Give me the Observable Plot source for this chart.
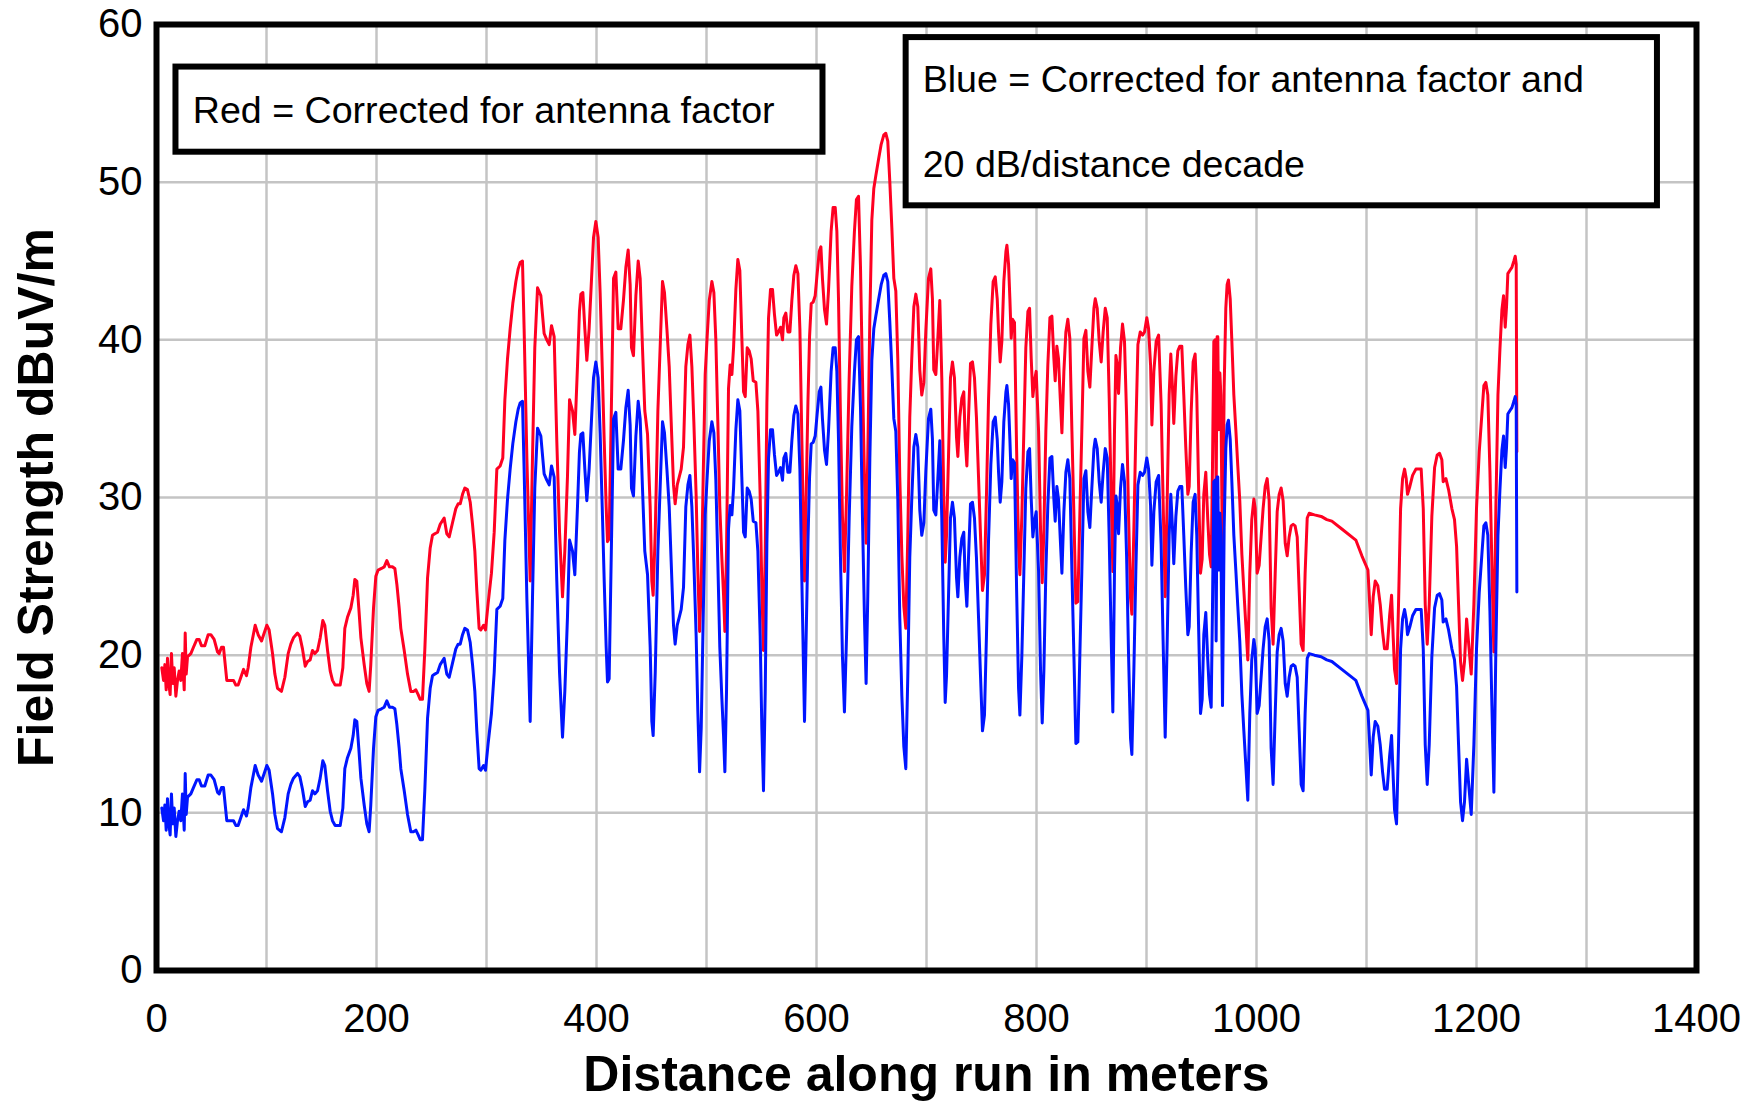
<!DOCTYPE html>
<html>
<head>
<meta charset="utf-8">
<script src="https://cdn.jsdelivr.net/npm/d3@7"></script>
<script src="https://cdn.jsdelivr.net/npm/@observablehq/plot@0.6"></script>
<style>
  html, body { margin: 0; padding: 0; background: #fff; overflow: hidden; }
  #chart svg { display: block; }
</style>
</head>
<body>
<div id="chart"></div>
<script>
// Distance along run (m)
const distance = [
4.8,6.4,7.6,8.8,10.0,11.2,12.4,13.6,14.8,16.1,17.6,19.1,20.6,22.1,23.6,25.2,26.1,27.0,28.2,31.2,33.6,36.7,38.8,40.9,43.9,47.0,49.4,52.4,55.5,57.0,59.1,60.9,63.9,67.6,70.0,72.1,74.2,76.7,79.1,81.8,83.3,85.8,89.7,92.4,95.5,97.9,100.3,102.4,105.5,107.6,110.0,113.6,116.7,119.7,122.1,124.5,128.2,130.3,132.7,135.2,137.3,139.7,141.8,143.9,146.4,148.8,151.2,153.0,155.5,157.9,160.0,162.4,167.0,169.4,171.2,173.6,176.7,178.8,180.3,182.1,183.9,185.8,188.8,191.2,193.3,194.8,197.3,199.4,201.5,204.5,207.0,209.4,211.8,214.5,216.7,218.5,220.6,222.1,225.2,228.2,231.2,233.6,235.8,237.9,239.7,241.8,243.9,246.4,248.8,250.9,253.0,255.5,257.9,261.5,263.9,266.1,269.1,272.1,274.2,276.1,278.2,280.3,282.7,285.2,287.3,289.4,291.2,293.3,
294.8,297.3,299.1,301.5,304.5,307.0,309.4,312.4,314.8,316.7,319.1,321.5,323.9,326.7,328.8,330.6,332.7,334.2,336.7,339.7,341.8,343.9,346.4,349.4,352.4,354.8,357.0,359.1,361.5,363.9,366.4,369.1,371.2,373.6,375.5,378.2,380.3,382.7,384.5,385.8,387.6,389.4,391.2,393.3,395.5,397.3,399.4,401.5,403.3,405.2,407.0,408.8,410.0,411.5,413.6,415.5,417.6,419.7,422.1,424.5,426.7,428.8,430.6,431.8,433.6,435.8,437.9,439.7,441.8,443.9,446.4,448.8,450.3,451.5,
453.4,455.8,458.2,460.0,461.8,464.0,466.1,467.9,470.0,471.5,473.4,475.2,477.0,479.1,481.2,483.1,484.9,486.7,488.5,490.6,492.1,493.7,495.2,497.0,498.8,500.6,502.5,504.9,506.7,508.5,510.3,512.1,514.0,515.5,516.7,518.2,520.0,521.5,523.1,524.6,526.7,528.5,530.3,532.1,533.7,535.2,537.0,538.8,540.6,542.5,544.9,546.7,548.8,550.3,551.8,553.4,554.9,556.4,558.2,560.0,561.8,563.7,565.5,567.3,569.1,570.3,572.1,574.0,575.8,577.6,579.4,581.2,583.1,584.9,586.7,589.1,590.6,592.2,593.7,595.2,597.0,598.8,600.6,602.5,604.0,
605.4,607.3,609.1,610.9,613.3,615.1,617.0,618.5,620.0,621.8,623.6,625.4,627.3,629.7,632.1,634.5,636.3,638.2,640.0,641.8,643.6,645.1,646.6,648.5,650.3,652.1,653.9,656.3,658.8,661.2,663.0,664.8,666.6,668.5,670.3,672.1,673.9,675.7,677.6,679.4,681.2,683.0,684.8,686.6,688.5,690.3,692.1,693.9,695.7,697.6,699.4,701.8,703.9,705.4,706.6,708.5,710.3,712.1,713.9,715.7,717.0,718.2,720.0,721.8,723.6,725.4,727.3,728.5,730.3,732.1,733.9,735.1,736.7,738.2,740.0,741.8,743.6,745.4,747.3,749.1,750.9,752.7,754.5,756.4,758.5,
760.6,762.5,764.3,765.5,767.0,768.5,770.3,772.2,773.1,774.6,775.8,777.0,778.2,780.0,781.9,783.7,784.9,786.7,788.5,790.3,792.2,793.7,795.2,796.7,798.2,799.7,801.9,803.7,805.2,806.7,808.5,810.3,812.2,814.0,815.8,817.0,818.5,820.0,821.6,823.1,824.9,826.7,828.5,830.3,832.2,834.0,835.8,837.6,839.4,841.2,843.1,844.9,846.7,848.5,850.3,852.2,853.4,855.2,857.0,858.8,860.6,862.5,864.3,866.1,867.9,869.4,870.9,872.2,873.4,874.6,876.4,878.2,880.0,881.9,883.7,885.5,886.7,888.5,890.3,892.2,894.3,896.4,898.2,900.3,901.9,903.7,904.9,906.7,908.8,911.0,
913.3,915.1,917.0,918.8,920.6,922.1,923.6,924.8,926.7,928.5,930.3,932.1,933.9,935.7,937.6,938.8,940.6,942.4,944.2,945.7,947.3,949.1,950.6,952.1,953.9,955.7,957.3,958.8,960.0,961.2,962.4,963.3,964.2,964.8,965.7,966.7,967.6,969.1,970.6,972.1,973.3,974.5,976.1,977.6,979.4,981.2,983.0,984.8,986.7,988.5,990.3,992.1,993.9,995.7,997.6,998.8,1000.6,1002.4,1004.2,1006.0,1007.9,1009.7,1011.5,1013.3,1015.1,1017.0,1018.8,1020.6,1022.4,1024.2,1026.1,1027.9,1029.7,1031.5,1033.3,1035.1,1037.0,1038.8,1040.6,1042.4,1044.2,1046.1,1047.9,1052.7,1058.8,1063.9,
1068.5,1077.6,1090.3,1095.8,1101.3,1103.1,1104.3,1106.1,1107.9,1110.3,1112.5,1114.6,1116.4,1118.8,1121.0,1122.8,1124.3,1125.5,1127.3,1129.1,1131.0,1132.8,1134.6,1136.1,1137.3,1139.4,1141.9,1144.9,1149.7,1151.6,1153.4,1155.2,1157.0,1159.4,1161.9,1164.3,1166.4,1168.5,1169.7,1172.2,1174.6,1177.6,1180.0,1181.9,1183.7,1185.5,1187.3,1189.1,1191.0,1192.8,1195.2,1197.6,1200.0,1202.5,1204.9,1206.7,1208.5,1210.3,1212.2,1214.0,1215.8,1217.6,1219.5,1221.3,1223.1,1224.6,1226.1,1227.3,1228.5,1230.3,1232.2,1234.0,1235.2,1236.1,1236.7
];

// Red = corrected for antenna factor (dBuV/m)
const redField = [
19.2,18.4,19.4,17.8,19.8,18.2,17.5,20.1,18.2,19.2,17.4,18.4,19.0,18.4,20.1,17.8,21.4,18.8,19.9,20.1,20.5,21.0,21.0,20.6,20.6,21.3,21.3,21.0,20.2,20.1,20.5,20.5,18.4,18.4,18.4,18.1,18.1,18.6,19.1,18.7,19.2,20.5,21.9,21.3,20.9,21.4,21.9,21.6,20.1,18.8,17.9,17.7,18.6,20.1,20.7,21.1,21.4,21.2,20.4,19.3,19.6,19.7,20.3,20.1,20.3,21.1,22.2,21.9,20.3,19.0,18.4,18.1,18.1,19.2,21.7,22.4,23.0,23.8,24.8,24.7,23.0,21.1,19.4,18.2,17.7,19.4,23.0,25.0,25.4,25.5,25.6,26.0,25.6,25.6,25.5,24.5,23.0,21.7,20.3,18.8,17.7,17.7,17.8,17.5,17.2,17.2,20.3,24.9,26.8,27.6,27.7,27.8,28.3,28.7,27.7,27.5,28.4,29.3,29.6,29.6,30.2,30.6,30.5,29.7,28.3,26.6,24.1,21.7,
21.6,21.9,21.6,23.3,25.2,27.8,31.8,32.0,32.5,36.2,38.8,40.7,42.3,43.7,44.5,44.9,45.0,40.7,32.5,24.7,32.5,39.5,43.3,42.8,40.4,40.0,39.7,40.9,40.2,33.6,27.8,23.7,26.6,31.3,36.2,35.5,34.0,38.3,41.8,42.9,43.0,40.7,38.7,40.7,43.9,46.5,47.5,46.5,43.0,38.3,33.6,29.4,27.2,27.4,36.0,43.9,44.3,40.7,40.7,42.5,44.6,45.7,43.5,39.5,39.0,42.8,45.0,43.9,39.5,35.5,34.0,29.4,24.7,23.8,
27.8,35.5,40.2,43.7,43.0,40.7,38.3,34.8,30.8,29.6,30.8,31.3,31.8,33.2,38.3,39.7,40.3,38.3,34.8,30.1,25.4,21.5,24.3,31.3,37.8,40.2,42.5,43.7,43.0,40.0,34.8,29.4,26.1,23.8,21.5,26.6,36.9,38.4,37.8,39.5,43.2,45.1,44.4,40.2,36.7,36.4,39.5,39.3,38.8,37.4,37.3,35.5,30.1,24.3,20.3,26.6,36.0,41.4,43.2,43.2,41.6,40.3,40.5,40.8,40.0,41.4,41.7,40.5,40.5,42.5,44.1,44.7,44.2,40.7,33.6,24.7,30.1,36.0,40.2,42.3,42.4,42.8,44.2,45.6,45.9,
43.9,41.9,41.0,43.1,46.9,48.4,48.4,46.9,42.6,35.1,28.8,25.3,30.1,37.6,43.4,46.9,48.9,49.1,44.6,37.6,31.3,27.1,32.6,41.4,47.6,49.6,50.4,51.4,52.4,53.0,53.1,52.6,50.1,47.1,43.9,43.1,38.8,31.3,26.3,23.1,21.7,27.6,35.1,38.8,42.1,42.9,42.1,38.1,36.5,37.3,40.6,43.9,44.5,42.6,38.1,37.8,40.1,42.5,37.6,30.1,25.9,27.6,32.6,37.6,38.6,37.6,33.8,32.6,35.1,36.3,36.7,33.8,32.0,35.1,38.5,38.6,37.6,35.1,31.3,27.6,24.1,25.1,30.1,36.2,41.0,
43.7,44.0,42.6,40.5,38.6,39.9,43.7,45.6,46.0,44.8,42.6,40.1,41.3,41.1,33.1,26.8,25.1,28.9,34.2,39.5,41.8,42.0,38.8,36.4,37.4,38.0,34.2,27.9,24.6,27.9,34.2,38.4,41.4,41.5,38.8,37.4,39.6,38.8,36.3,34.1,38.0,40.5,41.3,40.1,34.2,28.9,23.3,23.4,28.9,34.2,40.1,40.6,38.0,37.0,39.5,42.0,42.6,42.0,39.9,38.6,40.5,42.0,41.4,36.3,30.0,25.3,34.2,39.0,38.4,36.6,39.5,41.0,39.9,35.2,28.9,23.6,22.6,27.9,34.2,39.7,40.5,40.3,40.5,41.4,40.7,38.4,34.6,38.0,39.9,40.3,
35.9,29.8,23.7,29.8,36.5,39.1,37.0,34.7,37.7,39.3,39.6,39.6,36.5,33.2,30.2,30.7,35.4,38.6,39.1,36.5,30.9,25.2,26.1,30.2,31.6,28.6,26.4,25.6,32.0,39.9,40.0,29.8,40.2,40.2,34.3,37.9,36.5,25.7,37.0,42.0,43.5,43.8,42.6,39.9,36.5,34.3,32.0,29.8,26.4,24.1,21.9,19.7,25.2,28.6,29.9,29.3,25.2,25.7,27.5,29.3,30.7,31.2,29.8,23.0,20.7,25.2,29.1,30.2,30.6,29.8,27.1,26.3,27.5,28.2,28.3,28.2,27.5,24.1,20.7,20.3,25.2,28.7,29.0,28.9,28.8,28.6,
28.5,28.0,27.3,26.3,25.4,23.0,21.3,23.7,24.7,24.4,23.2,21.5,20.4,20.4,22.5,23.8,21.1,19.1,18.2,23.2,29.3,31.2,31.8,31.2,30.2,30.7,31.4,31.8,31.8,29.3,23.2,20.7,23.2,28.8,31.9,32.7,32.8,32.4,31.0,31.2,30.5,29.3,28.6,26.9,23.2,19.6,18.4,19.6,22.3,20.8,18.8,23.2,29.3,32.9,35.3,37.1,37.3,36.5,31.7,25.7,20.2,29.3,36.5,39.4,41.9,42.8,40.8,42.1,44.2,44.4,44.6,45.0,45.3,44.8,32.9
];

// Blue = corrected for antenna factor and 20 dB/distance decade (dBuV/m)
const blueField = [
10.3,9.5,10.5,8.9,10.9,9.3,8.6,11.2,9.3,10.3,8.5,9.5,10.1,9.5,11.2,8.9,12.5,9.9,11.0,11.2,11.6,12.1,12.1,11.7,11.7,12.4,12.4,12.1,11.3,11.2,11.6,11.6,9.5,9.5,9.5,9.2,9.2,9.7,10.2,9.8,10.3,11.6,13.0,12.4,12.0,12.5,13.0,12.7,11.2,9.9,9.0,8.8,9.7,11.2,11.8,12.2,12.5,12.3,11.5,10.4,10.7,10.8,11.4,11.2,11.4,12.2,13.3,13.0,11.4,10.1,9.5,9.2,9.2,10.3,12.8,13.5,14.1,14.9,15.9,15.8,14.1,12.2,10.5,9.3,8.8,10.5,14.1,16.1,16.5,16.6,16.7,17.1,16.7,16.7,16.6,15.6,14.1,12.8,11.4,9.9,8.8,8.8,8.9,8.6,8.3,8.3,11.4,16.0,17.9,18.7,18.8,18.9,19.4,19.8,18.8,18.6,19.5,20.4,20.7,20.7,21.3,21.7,21.6,20.8,19.4,17.7,15.2,12.8,
12.7,13.0,12.7,14.4,16.3,18.9,22.9,23.1,23.6,27.3,29.9,31.8,33.4,34.8,35.6,36.0,36.1,31.8,23.6,15.8,23.6,30.6,34.4,33.9,31.5,31.1,30.8,32.0,31.3,24.7,18.9,14.8,17.7,22.4,27.3,26.6,25.1,29.4,32.9,34.0,34.1,31.8,29.8,31.8,35.0,37.6,38.6,37.6,34.1,29.4,24.7,20.5,18.3,18.5,27.1,35.0,35.4,31.8,31.8,33.6,35.7,36.8,34.6,30.6,30.1,33.9,36.1,35.0,30.6,26.6,25.1,20.5,15.8,14.9,
18.9,26.6,31.3,34.8,34.1,31.8,29.4,25.9,21.9,20.7,21.9,22.4,22.9,24.3,29.4,30.8,31.4,29.4,25.9,21.2,16.5,12.6,15.4,22.4,28.9,31.3,33.6,34.8,34.1,31.1,25.9,20.5,17.2,14.9,12.6,17.7,28.0,29.5,28.9,30.6,34.3,36.2,35.5,31.3,27.8,27.5,30.6,30.4,29.9,28.5,28.4,26.6,21.2,15.4,11.4,17.7,27.1,32.5,34.3,34.3,32.7,31.4,31.6,31.9,31.1,32.5,32.8,31.6,31.6,33.6,35.2,35.8,35.3,31.8,24.7,15.8,21.2,27.1,31.3,33.4,33.5,33.9,35.3,36.7,37.0,
35.0,33.0,32.1,34.2,38.0,39.5,39.5,38.0,33.7,26.2,19.9,16.4,21.2,28.7,34.5,38.0,40.0,40.2,35.7,28.7,22.4,18.2,23.7,32.5,38.7,40.7,41.5,42.5,43.5,44.1,44.2,43.7,41.2,38.2,35.0,34.2,29.9,22.4,17.4,14.2,12.8,18.7,26.2,29.9,33.2,34.0,33.2,29.2,27.6,28.4,31.7,35.0,35.6,33.7,29.2,28.9,31.2,33.6,28.7,21.2,17.0,18.7,23.7,28.7,29.7,28.7,24.9,23.7,26.2,27.4,27.8,24.9,23.1,26.2,29.6,29.7,28.7,26.2,22.4,18.7,15.2,16.2,21.2,27.3,32.1,
34.8,35.1,33.7,31.6,29.7,31.0,34.8,36.7,37.1,35.9,33.7,31.2,32.4,32.2,24.2,17.9,16.2,20.0,25.3,30.6,32.9,33.1,29.9,27.5,28.5,29.1,25.3,19.0,15.7,19.0,25.3,29.5,32.5,32.6,29.9,28.5,30.7,29.9,27.4,25.2,29.1,31.6,32.4,31.2,25.3,20.0,14.4,14.5,20.0,25.3,31.2,31.7,29.1,28.1,30.6,33.1,33.7,33.1,31.0,29.7,31.6,33.1,32.5,27.4,21.1,16.4,25.3,30.1,29.5,27.7,30.6,32.1,31.0,26.3,20.0,14.7,13.7,19.0,25.3,30.8,31.6,31.4,31.6,32.5,31.8,29.5,25.7,29.1,31.0,31.4,
27.0,20.9,14.8,20.9,27.6,30.2,28.1,25.8,28.8,30.4,30.7,30.7,27.6,24.3,21.3,21.8,26.5,29.7,30.2,27.6,22.0,16.3,17.2,21.3,22.7,19.7,17.5,16.7,23.1,31.0,31.1,20.9,31.3,31.3,25.4,29.0,27.6,16.8,28.1,33.1,34.6,34.9,33.7,31.0,27.6,25.4,23.1,20.9,17.5,15.2,13.0,10.8,16.3,19.7,21.0,20.4,16.3,16.8,18.6,20.4,21.8,22.3,20.9,14.1,11.8,16.3,20.2,21.3,21.7,20.9,18.2,17.4,18.6,19.3,19.4,19.3,18.6,15.2,11.8,11.4,16.3,19.8,20.1,20.0,19.9,19.7,
19.6,19.1,18.4,17.4,16.5,14.1,12.4,14.8,15.8,15.5,14.3,12.6,11.5,11.5,13.6,14.9,12.2,10.2,9.3,14.3,20.4,22.3,22.9,22.3,21.3,21.8,22.5,22.9,22.9,20.4,14.3,11.8,14.3,19.9,23.0,23.8,23.9,23.5,22.1,22.3,21.6,20.4,19.7,18.0,14.3,10.7,9.5,10.7,13.4,11.9,9.9,14.3,20.4,24.0,26.4,28.2,28.4,27.6,22.8,16.8,11.3,20.4,27.6,30.5,33.0,33.9,31.9,33.2,35.3,35.5,35.7,36.1,36.4,35.9,24.0
];

const xTicks = [0, 200, 400, 600, 800, 1000, 1200, 1400];
const yTicks = [0, 10, 20, 30, 40, 50, 60];
const xGrid = [100, 200, 300, 400, 500, 600, 700, 800, 900, 1000, 1100, 1200, 1300];
const yGrid = [10, 20, 30, 40, 50];

const xTitle = "Distance along run in meters";
const yTitle = "Field Strength dBuV/m";
const redNote = "Red = Corrected for antenna factor";
const blueNoteLines = ["Blue = Corrected for antenna factor and", "20 dB/distance decade"];

// Annotation boxes (placed in data units)
const noteBoxes = [
  {x1: 17.7, x2: 605.9, y1: 51.9, y2: 57.3},
  {x1: 681.5, x2: 1364.5, y1: 48.5, y2: 59.17}
];
const noteTexts = [
  {x: 33.0, y: 53.74, text: redNote},
  {x: 696.5, y: 55.7, text: blueNoteLines[0]},
  {x: 696.5, y: 50.3, text: blueNoteLines[1]}
];

const n = Math.min(distance.length, redField.length, blueField.length);
const rows = [];
for (let i = 0; i < n; i++) rows.push({distance: distance[i], red: redField[i], blue: blueField[i]});

const font = "'Liberation Sans', Arial, Helvetica, sans-serif";

const chart = Plot.plot({
  width: 1762,
  height: 1102,
  marginLeft: 156,
  marginRight: 66,
  marginTop: 24,
  marginBottom: 132,
  style: {fontFamily: font, background: "white", color: "black", overflow: "visible"},
  x: {domain: [0, 1400]},
  y: {domain: [0, 60]},
  marks: [
    Plot.gridX(xGrid, {stroke: "#c4c4c4", strokeOpacity: 1, strokeWidth: 2.5}),
    Plot.gridY(yGrid, {stroke: "#c4c4c4", strokeOpacity: 1, strokeWidth: 2.5}),
    Plot.line(rows, {x: "distance", y: "red", stroke: "#ff0022", strokeWidth: 3, strokeLinejoin: "round"}),
    Plot.line(rows, {x: "distance", y: "blue", stroke: "#0015ff", strokeWidth: 3, strokeLinejoin: "round"}),
    Plot.rect(noteBoxes, {x1: "x1", x2: "x2", y1: "y1", y2: "y2", fill: "white", stroke: "black", strokeWidth: 6}),
    Plot.text(noteTexts, {x: "x", y: "y", text: "text", textAnchor: "start", lineAnchor: "bottom", fontSize: 37.6, fill: "black"}),
    Plot.frame({stroke: "black", strokeWidth: 6}),
    Plot.axisX({ticks: xTicks, tickSize: 0, tickPadding: 33, fontSize: 40, label: null, tickFormat: d => String(d)}),
    Plot.axisY({ticks: yTicks, tickSize: 0, tickPadding: 14, fontSize: 40, label: null, tickFormat: d => String(d)}),
    Plot.text([xTitle], {text: d => d, frameAnchor: "bottom", dy: 120, textAnchor: "middle", lineAnchor: "bottom", fontSize: 50, fontWeight: "bold", fill: "black"}),
    Plot.text([yTitle], {text: d => d, frameAnchor: "left", dx: -104, rotate: -90, textAnchor: "middle", lineAnchor: "bottom", fontSize: 50, fontWeight: "bold", fill: "black"})
  ]
});

document.getElementById("chart").appendChild(chart);
</script>
</body>
</html>
